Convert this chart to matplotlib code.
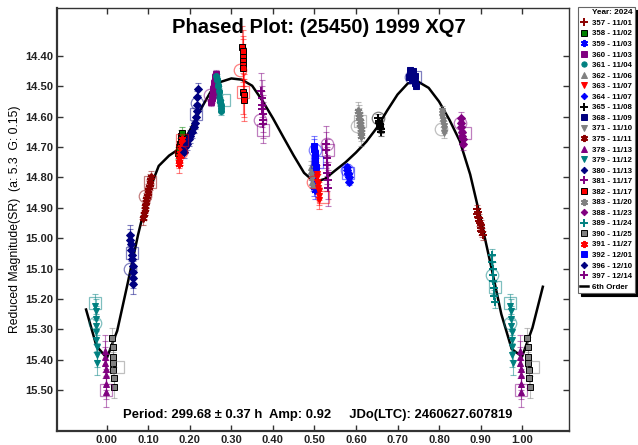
import matplotlib.pyplot as plt
from matplotlib.lines import Line2D

plt.rcParams['font.family'] = ['Liberation Sans', 'DejaVu Sans']
plt.rcParams['font.weight'] = 'bold'

# 6th order Fourier fit, sampled every 0.025 in phase
fit_phase = [-0.050, -0.025, 0.000, 0.025, 0.050, 0.075, 0.100, 0.125, 0.150, 0.175,
             0.200, 0.225, 0.250, 0.275, 0.300, 0.325, 0.350, 0.375, 0.400, 0.425,
             0.450, 0.475, 0.500, 0.525, 0.550, 0.575, 0.600, 0.625, 0.650, 0.675,
             0.700, 0.725, 0.750, 0.775, 0.800, 0.825, 0.850, 0.875, 0.900, 0.925,
             0.950, 0.975, 1.000, 1.025, 1.050]
fit_mag = [15.235, 15.355, 15.395, 15.305, 15.150, 14.990, 14.850, 14.762, 14.728, 14.705,
           14.645, 14.578, 14.518, 14.485, 14.474, 14.478, 14.498, 14.548, 14.605, 14.667,
           14.728, 14.785, 14.815, 14.805, 14.777, 14.750, 14.718, 14.682, 14.637, 14.580,
           14.527, 14.490, 14.485, 14.505, 14.550, 14.610, 14.680, 14.790, 14.935, 15.090,
           15.250, 15.365, 15.390, 15.295, 15.160]

# sessions: phase / reduced magnitude
ph_357 = [0.891, 0.892, 0.894, 0.895, 0.896, 0.897, 0.899, 0.900, 0.901, 0.902, 0.904, 0.905]
mag_357 = [14.905, 14.92, 14.915, 14.93, 14.945, 14.935, 14.95, 14.965, 14.955, 14.975, 14.98, 14.99]
ph_358 = [0.172, 0.173, 0.175, 0.176, 0.178, 0.179, 0.181]
mag_358 = [14.72, 14.70, 14.71, 14.69, 14.68, 14.665, 14.655]
ph_359 = [0.497, 0.498, 0.499, 0.500, 0.501]
mag_359 = [14.79, 14.81, 14.80, 14.83, 14.84]
ph_360 = [0.252, 0.253, 0.254, 0.255, 0.256, 0.257, 0.258, 0.259, 0.260, 0.261, 0.262, 0.263]
mag_360 = [14.55, 14.535, 14.54, 14.52, 14.51, 14.50, 14.505, 14.49, 14.48, 14.47, 14.475, 14.46]
ph_361 = [0.264, 0.265, 0.266, 0.267, 0.268, 0.269, 0.270, 0.271, 0.272, 0.273, 0.274, 0.275, 0.276]
mag_361 = [14.465, 14.475, 14.48, 14.495, 14.50, 14.515, 14.52, 14.535, 14.545, 14.55, 14.56, 14.57, 14.58]
ph_362 = [0.491, 0.492, 0.493, 0.494, 0.495, 0.496]
mag_362 = [14.765, 14.78, 14.79, 14.80, 14.815, 14.825]
ph_363 = [0.504, 0.505, 0.506, 0.507, 0.508, 0.509, 0.510, 0.511, 0.512]
mag_363 = [14.78, 14.79, 14.80, 14.815, 14.82, 14.835, 14.845, 14.86, 14.875]
ph_364 = [0.578, 0.579, 0.580, 0.581, 0.582, 0.583]
mag_364 = [14.765, 14.775, 14.785, 14.79, 14.80, 14.815]
ph_365 = [0.654, 0.655, 0.656, 0.657, 0.658, 0.659, 0.660, 0.661]
mag_365 = [14.605, 14.615, 14.62, 14.625, 14.63, 14.635, 14.64, 14.65]
ph_368 = [0.727, 0.729, 0.731, 0.733, 0.735, 0.737, 0.739, 0.741, 0.743, 0.745]
mag_368 = [14.47, 14.455, 14.445, 14.46, 14.48, 14.45, 14.475, 14.49, 14.465, 14.50]
ph_371 = [0.806, 0.807, 0.808, 0.809, 0.810, 0.811, 0.812, 0.813]
mag_371 = [14.58, 14.59, 14.60, 14.61, 14.62, 14.63, 14.64, 14.655]
ph_375 = [0.088, 0.089, 0.091, 0.092, 0.094, 0.095, 0.097, 0.098, 0.100, 0.101, 0.103, 0.104, 0.106]
mag_375 = [14.935, 14.92, 14.905, 14.895, 14.88, 14.87, 14.86, 14.85, 14.84, 14.83, 14.82, 14.81, 14.80]
ph_378 = [0.995, 0.996, 0.996, 0.997, 0.997, 0.998, 0.998]
mag_378 = [15.37, 15.39, 15.41, 15.43, 15.45, 15.48, 15.505]
ph_379 = [0.972, 0.973, 0.974, 0.974, 0.975, 0.975, 0.976, 0.976, 0.977]
mag_379 = [15.225, 15.24, 15.265, 15.29, 15.31, 15.335, 15.36, 15.385, 15.41]
ph_380 = [0.056, 0.057, 0.058, 0.059, 0.060, 0.061, 0.062, 0.062, 0.063, 0.064]
mag_380 = [14.99, 15.005, 15.02, 15.04, 15.055, 15.07, 15.09, 15.11, 15.13, 15.15]
ph_381 = [0.372, 0.373, 0.374, 0.374, 0.375, 0.376, 0.377]
mag_381 = [14.515, 14.54, 14.56, 14.575, 14.59, 14.61, 14.625]
ph_382 = [0.326, 0.327, 0.327, 0.328, 0.328, 0.329, 0.329, 0.330, 0.330]
mag_382 = [14.37, 14.385, 14.405, 14.415, 14.43, 14.44, 14.52, 14.53, 14.545]
ph_383 = [0.606, 0.607, 0.608, 0.609, 0.610, 0.611, 0.612, 0.613]
mag_383 = [14.58, 14.59, 14.60, 14.615, 14.625, 14.64, 14.65, 14.665]
ph_388 = [0.852, 0.853, 0.854, 0.855, 0.856, 0.857, 0.858]
mag_388 = [14.605, 14.62, 14.635, 14.65, 14.665, 14.675, 14.69]
ph_389 = [0.927, 0.928, 0.929, 0.930, 0.931, 0.932, 0.933, 0.934]
mag_389 = [15.055, 15.08, 15.10, 15.12, 15.14, 15.165, 15.19, 15.21]
ph_390 = [0.013, 0.014, 0.015, 0.015, 0.016, 0.017, 0.018]
mag_390 = [15.33, 15.36, 15.39, 15.41, 15.435, 15.46, 15.49]
ph_391 = [0.173, 0.174, 0.176, 0.177, 0.178, 0.180, 0.181]
mag_391 = [14.755, 14.74, 14.73, 14.72, 14.70, 14.69, 14.675]
ph_392 = [0.499, 0.500, 0.501, 0.501, 0.502, 0.503]
mag_392 = [14.695, 14.705, 14.72, 14.735, 14.75, 14.765]
ph_396 = [0.185, 0.189, 0.193, 0.197, 0.201, 0.205, 0.209, 0.213, 0.215, 0.216, 0.217, 0.218, 0.219]
mag_396 = [14.715, 14.70, 14.69, 14.675, 14.665, 14.65, 14.635, 14.62, 14.60, 14.58, 14.56, 14.535, 14.51]
ph_397 = [0.528, 0.529, 0.530, 0.530, 0.531, 0.532, 0.533]
mag_397 = [14.69, 14.71, 14.735, 14.76, 14.785, 14.81, 14.835]

sessions = ['357', '358', '359', '360', '361', '362', '363', '364', '365', '368', '371', '375',
            '378', '379', '380', '381', '382', '383', '388', '389', '390', '391', '392', '396', '397']
dates = ['11/01', '11/02', '11/03', '11/03', '11/04', '11/06', '11/07', '11/07', '11/08', '11/09',
         '11/10', '11/11', '11/13', '11/12', '11/13', '11/17', '11/17', '11/20', '11/23', '11/24',
         '11/25', '11/27', '12/01', '12/10', '12/14']
errors = [0.015, 0.02, 0.03, 0.015, 0.015, 0.02, 0.03, 0.01, 0.015, 0.01, 0.015, 0.02,
          0.05, 0.04, 0.035, 0.06, 0.07, 0.03, 0.02, 0.02, 0.035, 0.03, 0.03, 0.02, 0.06]

# hollow circle / square marks
ring_sess = ['375', '380', '391', '396', '360', '382', '381', '363', '392', '397', '364',
             '383', '365', '368', '371', '388', '389', '379']
ring_ph = [0.092, 0.055, 0.178, 0.217, 0.248, 0.320, 0.369, 0.497, 0.501, 0.530, 0.579,
           0.603, 0.653, 0.733, 0.805, 0.851, 0.927, 0.971]
ring_mag = [14.86, 15.10, 14.715, 14.555, 14.53, 14.445, 14.61, 14.815, 14.71, 14.69, 14.775,
            14.63, 14.605, 14.47, 14.64, 14.62, 15.12, 15.28]
box_sess = ['375', '380', '391', '396', '361', '382', '381', '392', '363', '397', '364',
            '383', '368', '388', '389', '379', '378', '390']
box_ph = [0.104, 0.060, 0.180, 0.214, 0.281, 0.328, 0.375, 0.505, 0.520, 0.533, 0.581,
          0.610, 0.742, 0.863, 0.935, 0.971, 0.997, 0.027]
box_mag = [14.815, 15.05, 14.677, 14.59, 14.545, 14.52, 14.645, 14.75, 14.865, 14.71, 14.785,
           14.615, 14.47, 14.654, 15.16, 15.215, 15.50, 15.425]

DKRED, GREEN, BLUE, PURPLE = '#8b0000', '#008000', '#0000ff', '#800080'
TEAL, GREY, RED, NAVY = '#008080', '#808080', '#ff0000', '#000080'
AST = (6, 2, 0)
style = {
    '357': (DKRED, '+', DKRED), '358': (GREEN, 's', 'k'), '359': (BLUE, AST, BLUE),
    '360': (PURPLE, 's', PURPLE), '361': (TEAL, 'o', TEAL), '362': (GREY, '^', GREY),
    '363': (RED, 'v', RED), '364': (BLUE, 'D', BLUE), '365': ('k', '+', 'k'),
    '368': (NAVY, 's', NAVY), '371': (GREY, 'v', GREY), '375': (DKRED, AST, DKRED),
    '378': (PURPLE, '^', PURPLE), '379': (TEAL, 'v', TEAL), '380': (NAVY, 'D', NAVY),
    '381': (PURPLE, '+', PURPLE), '382': (RED, 's', 'k'), '383': (GREY, AST, GREY),
    '388': (PURPLE, 'D', PURPLE), '389': (TEAL, '+', TEAL), '390': (GREY, 's', 'k'),
    '391': (RED, AST, RED), '392': (BLUE, 's', BLUE), '396': (NAVY, 'D', NAVY),
    '397': (PURPLE, '+', PURPLE),
}
data = {
    '357': (ph_357, mag_357), '358': (ph_358, mag_358), '359': (ph_359, mag_359),
    '360': (ph_360, mag_360), '361': (ph_361, mag_361), '362': (ph_362, mag_362),
    '363': (ph_363, mag_363), '364': (ph_364, mag_364), '365': (ph_365, mag_365),
    '368': (ph_368, mag_368), '371': (ph_371, mag_371), '375': (ph_375, mag_375),
    '378': (ph_378, mag_378), '379': (ph_379, mag_379), '380': (ph_380, mag_380),
    '381': (ph_381, mag_381), '382': (ph_382, mag_382), '383': (ph_383, mag_383),
    '388': (ph_388, mag_388), '389': (ph_389, mag_389), '390': (ph_390, mag_390),
    '391': (ph_391, mag_391), '392': (ph_392, mag_392), '396': (ph_396, mag_396),
    '397': (ph_397, mag_397),
}


def wrapped(ph, mag):
    # repeat points that fall inside the -0.05 .. 1.05 window one cycle away
    xs, ys = [], []
    for p, m in zip(ph, mag):
        for shift in (-1, 0, 1):
            q = p + shift
            if -0.05 <= q <= 1.05:
                xs.append(q)
                ys.append(m)
    return xs, ys


def marker_kw(key, ms=4.3):
    col, mk, ec = style[key]
    kw = dict(marker=mk, color=col, mfc=col, mec=ec, ms=ms, mew=0.7, ls='none')
    if mk == '+' or mk == AST:
        kw.update(ms=ms + 1.3, mew=1.4)
    if mk == 'D':
        kw.update(ms=ms - 0.5)
    return kw


fig = plt.figure(figsize=(6.38, 4.45), dpi=100)
ax = fig.add_axes([57 / 638, 1 - 431 / 445, 512 / 638, 423 / 445])

ax.plot(fit_phase, fit_mag, color='k', lw=1.8, zorder=2)

for key, err in zip(sessions, errors):
    xs, ys = wrapped(*data[key])
    col = style[key][0]
    ax.errorbar(xs, ys, yerr=err, fmt='none', ecolor=col, alpha=0.5,
                elinewidth=0.8, capsize=2, capthick=0.8, zorder=3)
    ax.plot(xs, ys, zorder=4, **marker_kw(key))

for key, p, m in zip(ring_sess, ring_ph, ring_mag):
    xs, ys = wrapped([p], [m])
    ax.plot(xs, ys, 'o', ms=9, mfc='none', mec=style[key][0], mew=0.9, alpha=0.5, zorder=5)
for key, p, m in zip(box_sess, box_ph, box_mag):
    xs, ys = wrapped([p], [m])
    ax.plot(xs, ys, 's', ms=9, mfc='none', mec=style[key][0], mew=0.9, alpha=0.5, zorder=5)

ax.set_xlim(-0.12, 1.113)
ax.set_ylim(15.635, 14.242)
ax.set_xticks([i / 10 for i in range(11)])
ax.set_yticks([14.4 + i / 10 for i in range(12)])
ax.xaxis.set_major_formatter(plt.FormatStrFormatter('%.2f'))
ax.yaxis.set_major_formatter(plt.FormatStrFormatter('%.2f'))
ax.tick_params(direction='in', length=4, width=1, labelsize=8, pad=3,
               top=True, right=True, colors='#333333', labelcolor='#222222')
for side in ('left', 'bottom'):
    ax.spines[side].set_linewidth(1.6)
for side in ('top', 'right'):
    ax.spines[side].set_linewidth(1.0)
for sp in ax.spines.values():
    sp.set_color('#333333')

ax.set_ylabel('Reduced Magnitude(SR)  (a: 5.3  G: 0.15)', fontsize=8.8, labelpad=3)
ax.text(0.512, 0.955, 'Phased Plot: (25450) 1999 XQ7', transform=ax.transAxes,
        ha='center', va='center', fontsize=14.5, fontweight='bold')
ax.text(0.129, 0.038, 'Period: 299.68 \u00b1 0.37 h  Amp: 0.92     JDo(LTC): 2460627.607819',
        transform=ax.transAxes, ha='left', va='center', fontsize=9.4, fontweight='bold')

handles = [Line2D([], [], **marker_kw(k, ms=3.8)) for k in sessions]
labels = [f'{k} - {d}' for k, d in zip(sessions, dates)]
handles.append(Line2D([], [], color='k', lw=1.8))
labels.append('6th Order')
leg = fig.legend(handles, labels, loc='upper left', bbox_to_anchor=(578 / 638, 1 - 7 / 445),
                 title='Year: 2024', fontsize=5.7, title_fontsize=5.9, frameon=True,
                 fancybox=False, borderpad=0.3, labelspacing=0.38, handlelength=1.0,
                 handletextpad=0.5, borderaxespad=0, numpoints=1, alignment='right',
                 shadow={'facecolor': 'k', 'edgecolor': 'k', 'alpha': 1})
leg.get_frame().set_edgecolor('#666666')
leg.get_frame().set_linewidth(0.8)
leg.get_title().set_fontweight('bold')

fig.savefig('out.png', dpi=100)
